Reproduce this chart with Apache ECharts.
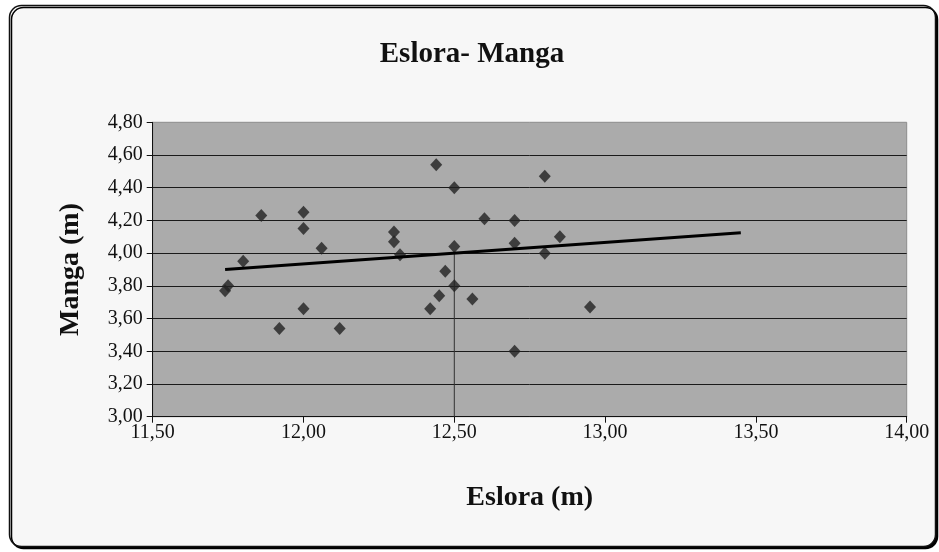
<!DOCTYPE html>
<html>
<head>
<meta charset="utf-8">
<title>Eslora- Manga</title>
<script src="https://cdn.jsdelivr.net/npm/echarts@6/dist/echarts.min.js"></script>
<style>
  html, body { margin: 0; padding: 0; background: #ffffff; }
  #chart { width: 939px; height: 552px; }
</style>
</head>
<body>
<div id="chart"></div>
<script>
// Boat length (eslora) vs beam (manga), metres
const eslora = [11.74, 11.75, 11.80, 11.86, 11.92, 12.00, 12.00, 12.00, 12.06, 12.12,
                12.30, 12.30, 12.32, 12.42, 12.44, 12.45, 12.47, 12.50, 12.50, 12.50,
                12.56, 12.60, 12.70, 12.70, 12.70, 12.80, 12.80, 12.85, 12.95];
const manga  = [3.77, 3.80, 3.95, 4.23, 3.54, 4.25, 4.15, 3.66, 4.03, 3.54,
                4.13, 4.07, 3.99, 3.66, 4.54, 3.74, 3.89, 4.40, 4.04, 3.80,
                3.72, 4.21, 4.20, 4.06, 3.40, 4.47, 4.00, 4.10, 3.67];

// Linear trend line end points
const trendX = [11.74, 13.45];
const trendY = [3.90, 4.125];

// Vertical drop line
const dropX = [12.50, 12.50];
const dropY = [3.00, 4.00];

// Axis ranges / ticks
const xTicks = [11.5, 12.0, 12.5, 13.0, 13.5, 14.0];
const yTicks = [3.0, 3.2, 3.4, 3.6, 3.8, 4.0, 4.2, 4.4, 4.6, 4.8];

const serif = '"Liberation Serif", "DejaVu Serif", serif';
const fmt = v => v.toFixed(2).replace('.', ',');

const chart = echarts.init(document.getElementById('chart'), null, { renderer: 'canvas' });

chart.setOption({
  animation: false,
  backgroundColor: '#ffffff',
  graphic: [{
    type: 'rect',
    z: -10,
    silent: true,
    shape: { x: 9.5, y: 5.5, width: 926, height: 541, r: 12 },
    style: {
      fill: '#f7f7f7',
      stroke: '#111111',
      lineWidth: 1.5,
      shadowColor: '#000000',
      shadowOffsetX: 2,
      shadowOffsetY: 2,
      shadowBlur: 0
    }
  }],
  title: {
    text: 'Eslora- Manga',
    left: 467,
    top: 35,
    textAlign: 'center',
    textStyle: { fontFamily: serif, fontSize: 29, fontWeight: 'bold', color: '#111111' }
  },
  grid: {
    left: 152.7,
    right: 32.3,
    top: 122.3,
    bottom: 135.3,
    show: true,
    backgroundColor: '#ababab',
    borderColor: '#8c8c8c',
    borderWidth: 1
  },
  xAxis: {
    type: 'value',
    min: xTicks[0],
    max: xTicks[xTicks.length - 1],
    interval: 0.5,
    name: 'Eslora (m)',
    nameLocation: 'middle',
    nameGap: 67,
    nameTextStyle: { fontFamily: serif, fontSize: 28, fontWeight: 'bold', color: '#111111' },
    axisLine: { show: true, onZero: false, lineStyle: { color: '#111111', width: 1 } },
    axisTick: { show: true, length: 6, lineStyle: { color: '#111111' } },
    axisLabel: { formatter: fmt, fontFamily: serif, fontSize: 20, color: '#111111', margin: 6 },
    splitLine: { show: false }
  },
  yAxis: {
    type: 'value',
    min: yTicks[0],
    max: yTicks[yTicks.length - 1],
    interval: 0.2,
    name: 'Manga (m)',
    nameLocation: 'middle',
    nameGap: 68,
    nameRotate: 90,
    nameTextStyle: { fontFamily: serif, fontSize: 28, fontWeight: 'bold', color: '#111111' },
    axisLine: { show: true, onZero: false, lineStyle: { color: '#111111', width: 1 } },
    axisTick: { show: true, length: 6, lineStyle: { color: '#111111' } },
    axisLabel: { formatter: fmt, fontFamily: serif, fontSize: 20, color: '#111111', margin: 10 },
    splitLine: { show: true, showMaxLine: false, lineStyle: { color: '#1a1a1a', width: 1 } }
  },
  series: [
    {
      name: 'drop',
      type: 'line',
      data: dropX.map((x, i) => [x, dropY[i]]),
      symbol: 'none',
      silent: true,
      lineStyle: { color: '#333333', width: 1 },
      z: 2
    },
    {
      name: 'Manga',
      type: 'scatter',
      data: eslora.map((x, i) => [x, manga[i]]),
      symbol: 'diamond',
      symbolSize: [12, 13],
      itemStyle: { color: '#222222' },
      z: 3
    },
    {
      name: 'Tendencia',
      type: 'line',
      data: trendX.map((x, i) => [x, trendY[i]]),
      symbol: 'none',
      silent: true,
      lineStyle: { color: '#000000', width: 3 },
      z: 4
    }
  ]
});
</script>
</body>
</html>
